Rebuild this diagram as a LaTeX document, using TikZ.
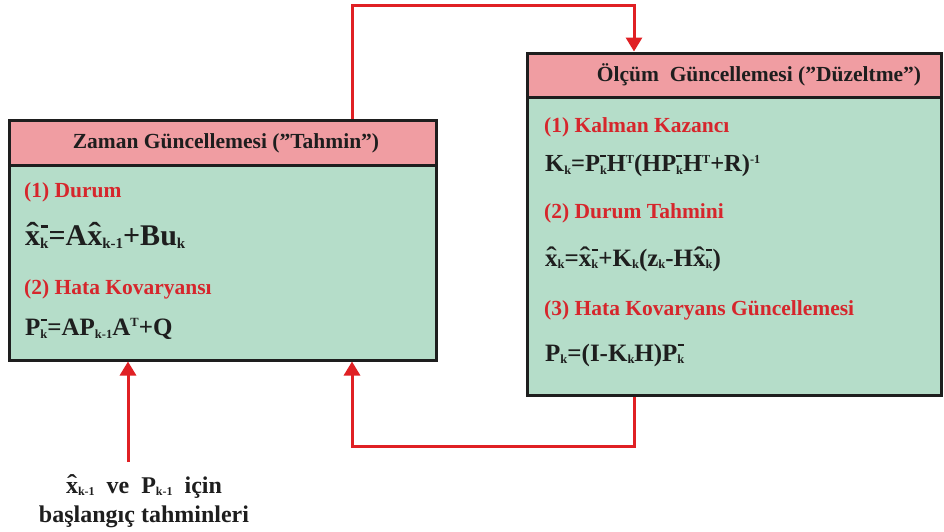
\documentclass[tikz,border=0pt]{standalone}
\usepackage{fontspec}
\usepackage{graphicx}
\setmainfont{Liberation Serif}
\usetikzlibrary{arrows.meta}
\definecolor{hdrpink}{RGB}{240,157,162}
\definecolor{bodygreen}{RGB}{181,221,201}
\definecolor{lblred}{RGB}{214,38,44}
\definecolor{arrred}{RGB}{224,32,36}
\definecolor{edge}{RGB}{30,30,30}
\newcommand\sbs[1]{\raisebox{-0.1em}{\scalebox{0.5}{#1}}}
\newcommand\sps[1]{\raisebox{0.36em}{\scalebox{0.5}{#1}}}
\newcommand\supsub[2]{\rlap{\hspace{0.01em}\rule[0.6em]{0.24em}{0.08em}}\sbs{#2}}
\newcommand\hx{\ooalign{x\cr\hfil\raisebox{0.06em}{\scalebox{1.25}[1]{\char"02C6}}\hfil\cr}}
\tikzset{
  boxbody/.style={draw=edge, line width=3pt, fill=bodygreen, inner sep=0pt},
  boxhead/.style={draw=edge, line width=3pt, fill=hdrpink, inner sep=0pt},
  hdrtext/.style={inner sep=0pt, text=edge, font=\bfseries\fontsize{21.5}{24}\selectfont},
  lbl/.style={anchor=west, inner sep=0pt, text=lblred, font=\bfseries\fontsize{21.5}{24}\selectfont},
  eqn/.style={anchor=west, inner sep=0pt, text=edge, font=\bfseries\fontsize{25}{28}\selectfont},
  conn/.style={draw=arrred, line width=3pt},
  tip/.style={-{Triangle[width=16pt,length=14pt]}}
}
\begin{document}
\begin{tikzpicture}[x=1pt,y=-1pt]
\useasboundingbox[fill=white] (0,0) rectangle (944,531);
% left box
\node[boxbody, minimum width=427pt, minimum height=240pt] (lbox) at (222.5,240) {};
\node[boxhead, minimum width=427pt, minimum height=45pt] (lhead) at (222.5,142.5) {};
\node[hdrtext] (lhtext) at (226,143) {Zaman Güncellemesi (”Tahmin”)};
\node[lbl] (l1) at (24,192) {(1) Durum};
\node[eqn, font=\bfseries\fontsize{30}{34}\selectfont] (le1) at (25,237) {\hx\supsub{-}{k}=A\hx\sbs{k-1}+Bu\sbs{k}};
\node[lbl] (l2) at (24,289) {(2) Hata Kovaryansı};
\node[eqn] (le2) at (25,329) {P\supsub{-}{k}=AP\sbs{k-1}A\sps{T}+Q};
% right box
\node[boxbody, minimum width=414pt, minimum height=342pt] (rbox) at (734,224) {};
\node[boxhead, minimum width=414pt, minimum height=44pt] (rhead) at (734,75) {};
\node[hdrtext] (rhtext) at (759,75) {Ölçüm\ \ Güncellemesi (”Düzeltme”)};
\node[lbl] (r1) at (544,127) {(1) Kalman Kazancı};
\node[eqn, font=\bfseries\fontsize{24.5}{28}\selectfont] (re1) at (545,166) {K\sbs{k}=P\supsub{-}{k}H\sps{T}(HP\supsub{-}{k}H\sps{T}+R)\sps{-1}};
\node[lbl] (r2) at (544,213) {(2) Durum Tahmini};
\node[eqn] (re2) at (545,260) {\hx\sbs{k}=\hx\supsub{-}{k}+K\sbs{k}(z\sbs{k}-H\hx\supsub{-}{k})};
\node[lbl] (r3) at (544,310) {(3) Hata Kovaryans Güncellemesi};
\node[eqn] (re3) at (545,355) {P\sbs{k}=(I-K\sbs{k}H)P\supsub{-}{k}};
% initial estimates label
\node[align=center, inner sep=0pt, text=edge, font=\bfseries\fontsize{24}{29}\selectfont] (init) at (144,502) {\hx\sbs{k-1}\ \ ve\ \ P\sbs{k-1}\ \ için\\başlangıç tahminleri};
% connectors
\coordinate (t1) at (352,5);
\coordinate (t2) at (634,5);
\coordinate (b1) at (352,446);
\coordinate (b2) at (634,446);
\coordinate (i1) at (128,462);
\draw[conn, tip] (lhead.north -| t1) -- (t1) -- (t2) -- (rhead.north -| t2);
\draw[conn, tip] (rbox.south -| b2) -- (b2) -- (b1) -- (lbox.south -| b1);
\draw[conn, tip] (i1) -- (lbox.south -| i1);
\end{tikzpicture}
\end{document}
